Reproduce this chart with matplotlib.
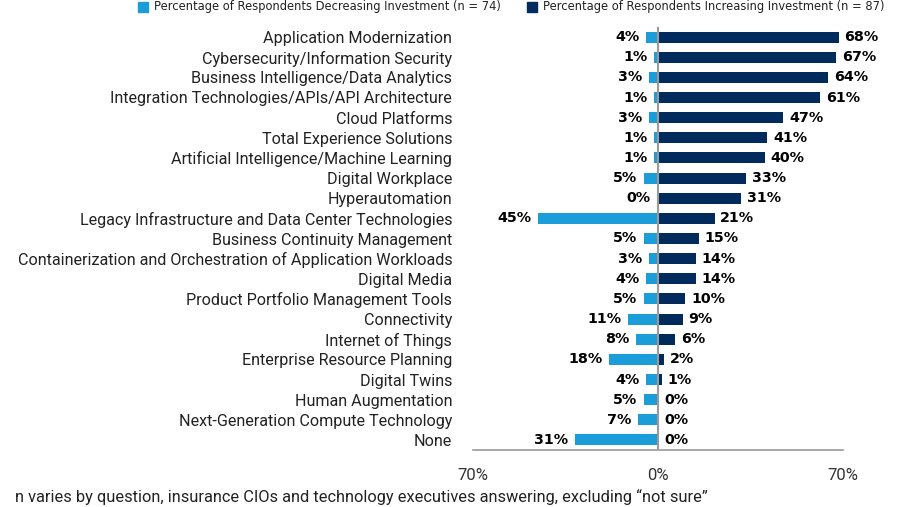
import matplotlib
matplotlib.use("Agg")
import matplotlib.pyplot as plt
from matplotlib.patches import Rectangle

categories = [
    "Application Modernization",
    "Cybersecurity/Information Security",
    "Business Intelligence/Data Analytics",
    "Integration Technologies/APIs/API Architecture",
    "Cloud Platforms",
    "Total Experience Solutions",
    "Artificial Intelligence/Machine Learning",
    "Digital Workplace",
    "Hyperautomation",
    "Legacy Infrastructure and Data Center Technologies",
    "Business Continuity Management",
    "Containerization and Orchestration of Application Workloads",
    "Digital Media",
    "Product Portfolio Management Tools",
    "Connectivity",
    "Internet of Things",
    "Enterprise Resource Planning",
    "Digital Twins",
    "Human Augmentation",
    "Next-Generation Compute Technology",
    "None",
]
decreasing = [4, 1, 3, 1, 3, 1, 1, 5, 0, 45, 5, 3, 4, 5, 11, 8, 18, 4, 5, 7, 31]
increasing = [68, 67, 64, 61, 47, 41, 40, 33, 31, 21, 15, 14, 14, 10, 9, 6, 2, 1, 0, 0, 0]
tick_values = [-70, 0, 70]
tick_labels = ["70%", "0%", "70%"]
legend_labels = ["Percentage of Respondents Decreasing Investment (n = 74)",
                 "Percentage of Respondents Increasing Investment (n = 87)"]
footnote = "n varies by question, insurance CIOs and technology executives answering, excluding \u201cnot sure\u201d"

LIGHT = "#1B9DD9"
DARK = "#002B5C"
TEXT = "#222222"
GRAY = "#9a9a9a"

W, H = 900, 507
fig = plt.figure(figsize=(9, 5.07), dpi=100)
ax = fig.add_axes([473 / W, 1 - 450 / H, (843 - 473) / W, (450 - 27) / H])

n = len(categories)
ys = list(range(n))
ax.barh(ys, [-v for v in decreasing], height=0.55, color=LIGHT, left=-0.4)
ax.barh(ys, increasing, height=0.55, color=DARK, left=0.4)
ax.set_xlim(-70, 70)
ax.set_ylim(n - 0.5, -0.5)
ax.axvline(0, color=GRAY, lw=1.5, zorder=3)

for y, d, i in zip(ys, decreasing, increasing):
    ax.text(-d - 2.9, y, f"{d}%", ha="right", va="center", fontsize=10.3,
            fontweight="bold", color="black", family="DejaVu Sans")
    ax.text(i + 2.6, y, f"{i}%", ha="left", va="center", fontsize=10.3,
            fontweight="bold", color="black", family="DejaVu Sans")

ax.set_yticks(ys)
ax.set_yticklabels(categories, fontsize=11.6, color=TEXT, family="Roboto")
ax.tick_params(axis="y", length=0, pad=15)
ax.set_xticks(tick_values)
ax.set_xticklabels(tick_labels, fontsize=12, color="#333333", family="Roboto")
ax.tick_params(axis="x", length=0, pad=13)
for s in ["top", "left", "right"]:
    ax.spines[s].set_visible(False)
ax.spines["bottom"].set_color(GRAY)
ax.spines["bottom"].set_linewidth(1.2)

# legend
ly = 1 - 6.5 / H
sq = 10
for x0, col, lab in [(138, LIGHT, legend_labels[0]), (527, DARK, legend_labels[1])]:
    fig.patches.append(Rectangle((x0 / W, ly - (sq / 2) / H), sq / W, sq / H,
                                 transform=fig.transFigure, color=col))
    fig.text((x0 + sq + 6) / W, ly, lab, ha="left", va="center", fontsize=8.3,
             color=TEXT, family="DejaVu Sans")

fig.text(15 / W, 1 - 497 / H, footnote, ha="left", va="center", fontsize=11.8,
         color=TEXT, family="Roboto")

fig.savefig("out.png", dpi=100)
